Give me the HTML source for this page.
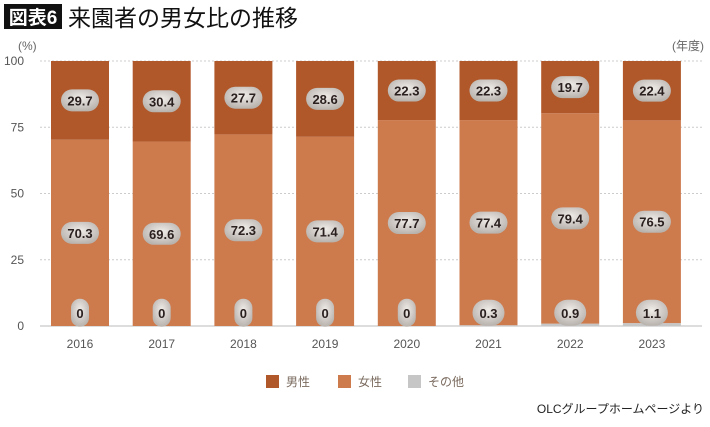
<!DOCTYPE html>
<html><head><meta charset="utf-8"><style>
body{margin:0;background:#fff;width:710px;height:422px;overflow:hidden;font-family:"Liberation Sans","Noto Sans CJK JP",sans-serif}
</style></head><body>
<svg id="c" width="710" height="422" xmlns="http://www.w3.org/2000/svg">
<defs><radialGradient id="lg" cx="50%" cy="40%" r="60%"><stop offset="0" stop-color="#f0ece8"/><stop offset="1" stop-color="#b9b3ae"/></radialGradient></defs>
<rect x="4" y="4" width="58" height="25" fill="#111"/>
<text x="33" y="24" fill="#fff" font-size="19" font-weight="bold" text-anchor="middle">図表6</text>
<text x="68" y="26" fill="#111" font-size="23">来園者の男女比の推移</text>
<text x="18" y="50" fill="#666" font-size="12">(%)</text>
<text x="704" y="50" fill="#666" font-size="12" text-anchor="end">(年度)</text>
<g id="grid"></g><g id="bars"></g>
<g>
<rect x="266" y="375" width="13" height="13" fill="#b0582a"/>
<text x="286" y="386" font-size="12" fill="#7a6a5e">男性</text>
<rect x="338" y="375" width="13" height="13" fill="#cd7a4c"/>
<text x="358" y="386" font-size="12" fill="#7a6a5e">女性</text>
<rect x="408" y="375" width="13" height="13" fill="#c6c6c6"/>
<text x="428" y="386" font-size="12" fill="#7a6a5e">その他</text>
</g>
<text x="704" y="413" font-size="12" fill="#222" text-anchor="end">OLCグループホームページより</text>
</svg>
<script>
const years=["2016","2017","2018","2019","2020","2021","2022","2023"];
const male=[29.7,30.4,27.7,28.6,22.3,22.3,19.7,22.4];
const female=[70.3,69.6,72.3,71.4,77.7,77.4,79.4,76.5];
const other=[0,0,0,0,0,0.3,0.9,1.1];
const ticks=[0,25,50,75,100];
const NS="http://www.w3.org/2000/svg";
const y0=326,y100=61,left=40,right=702,step=81.7,first=80,bw=58;
const Y=v=>y0-(y0-y100)*v/100;
const X=i=>first+i*step;
function mk(t,a,p){const e=document.createElementNS(NS,t);for(const k in a)e.setAttribute(k,a[k]);(p||document.getElementById('c')).appendChild(e);return e;}
const g=document.getElementById('grid'),b=document.getElementById('bars');
ticks.forEach(t=>{
 const l=mk('line',{x1:left,x2:right,y1:Y(t),y2:Y(t),stroke:t?'#ccc':'#bbb','stroke-dasharray':t?'2,2':''},g);
 
 
 const tx=mk('text',{x:24,y:Y(t)+4,'font-size':12,fill:'#555','text-anchor':'end'},g);tx.textContent=t;
 
 
});
function label(x,y,v,w,h){
 h=h||22;
 const r=mk('rect',{x:x-w/2,y:y-h/2,width:w,height:h,rx:w/2<h/2?w/2:h/2,fill:'url(#lg)'},b);
 
 
 const t=mk('text',{x:x,y:y+5,'font-size':13,'font-weight':'bold',fill:'#2a2020','text-anchor':'middle'},b);t.textContent=v;
 
 
}
years.forEach((yr,i)=>{
 const x=X(i)-bw/2;
 const o=mk('rect',{x:x,y:Y(other[i]),width:bw,height:y0-Y(other[i]),fill:'#c6c6c6'},b);
 
 
 const f=mk('rect',{x:x,y:Y(other[i]+female[i]),width:bw,height:Y(other[i])-Y(other[i]+female[i]),fill:'#cd7a4c'},b);
 
 
 const top=Math.min(100,other[i]+female[i]+male[i]);
 const m=mk('rect',{x:x,y:Y(top),width:bw,height:Y(other[i]+female[i])-Y(top),fill:'#b0582a'},b);
 
 
 label(X(i),(Y(top)+Y(other[i]+female[i]))/2,male[i],38);
 label(X(i),Y(other[i]+female[i]/2),female[i],38);
 if(other[i]) label(X(i),Y(5),other[i],32,26); else label(X(i),Y(5),other[i],18,28);
 const t=mk('text',{x:X(i),y:348,'font-size':12,fill:'#555','text-anchor':'middle'},b);t.textContent=yr;
 
 
});
</script>
</body></html>
